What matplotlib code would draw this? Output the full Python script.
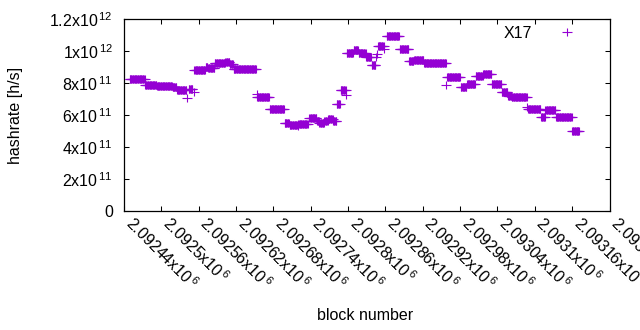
import numpy as np
import matplotlib
matplotlib.use('Agg')
import matplotlib.pyplot as plt
from matplotlib.path import Path

plt.rcParams['font.family'] = ['Liberation Sans', 'DejaVu Sans']
plt.rcParams['mathtext.fontset'] = 'custom'
plt.rcParams['mathtext.rm'] = 'Liberation Sans'
plt.rcParams['mathtext.it'] = 'Liberation Sans'
plt.rcParams['font.size'] = 11.5

# 数据：区块区间（起止区块号）及对应算力 (h/s)
block_base = 2092440
run_start = [9, 34, 53, 78, 85, 101, 104, 112, 113, 131, 135, 146, 163, 170, 176,
             213, 214, 234, 258, 266, 279, 280, 298, 310, 314, 322, 328, 336, 342,
             348, 357, 358, 369, 377, 389, 398, 405, 407, 408, 418, 422, 443, 458,
             466, 482, 518, 519, 541, 551, 565, 577, 591, 607, 617, 623, 648, 649,
             670, 677, 694, 720]
run_end = [33, 52, 77, 84, 100, 101, 110, 112, 130, 134, 145, 162, 169, 175, 212,
           213, 233, 257, 265, 278, 279, 295, 309, 313, 321, 327, 335, 341, 347,
           356, 357, 368, 376, 388, 397, 404, 405, 407, 417, 418, 442, 457, 465,
           481, 517, 518, 540, 550, 564, 576, 590, 606, 616, 622, 647, 648, 669,
           676, 693, 719, 731]
run_rate = [823e9, 787e9, 781e9, 772e9, 756e9, 704e9, 760e9, 744e9, 884e9, 903e9,
            892e9, 923e9, 931e9, 917e9, 885e9, 731e9, 711e9, 636e9, 553e9, 537e9,
            530e9, 544e9, 579e9, 562e9, 548e9, 565e9, 575e9, 560e9, 669e9, 756e9,
            725e9, 985e9, 1004e9, 985e9, 964e9, 912e9, 960e9, 980e9, 1030e9, 1010e9,
            1092e9, 1010e9, 935e9, 941e9, 923e9, 785e9, 835e9, 777e9, 794e9, 846e9,
            854e9, 792e9, 742e9, 719e9, 711e9, 652e9, 636e9, 590e9, 629e9, 585e9,
            498e9]

blocks = []
rates = []
for s, e, r in zip(run_start, run_end, run_rate):
    b = np.arange(block_base + s, block_base + e + 1)
    blocks.append(b)
    rates.append(np.full(len(b), r))
blocks = np.concatenate(blocks)
rates = np.concatenate(rates)

# gnuplot 风格的十字标记
cross = Path([(-1, 0), (1, 0), (0, -0.8), (0, 0.8)],
             [Path.MOVETO, Path.LINETO, Path.MOVETO, Path.LINETO])

fig = plt.figure(figsize=(6.4, 3.3), dpi=100)
ax = fig.add_axes([124 / 640, 1 - 211 / 330, (609.5 - 124) / 640, (211 - 19) / 330])
ax.plot(blocks, rates, linestyle='none', marker=cross, markersize=7.2,
        markeredgewidth=0.8, color='#9400d3', label='X17')

xticks = [block_base + 60 * k for k in range(14)]
ax.set_xlim(xticks[0], xticks[-1])
ax.set_ylim(0, 1.2e12)
ax.set_xticks(xticks)
ax.set_xticklabels([r'%gx10$^{\,6}$' % (t / 1e6) for t in xticks],
                   rotation=-45, ha='left', va='baseline', rotation_mode='anchor')
yticks = [0, 2e11, 4e11, 6e11, 8e11, 1e12, 1.2e12]
ylabels = ['0', r'2x10$^{\,11}$', r'4x10$^{\,11}$', r'6x10$^{\,11}$',
           r'8x10$^{\,11}$', r'1x10$^{\,12}$', r'1.2x10$^{\,12}$']
ax.set_yticks(yticks)
ax.set_yticklabels(ylabels)
ax.tick_params(direction='in', length=3.3, width=0.75, top=True, right=True)
ax.tick_params(axis='y', pad=8)
ax.tick_params(axis='x', pad=10)
for sp in ax.spines.values():
    sp.set_linewidth(0.9)

fig.text(16 / 640, 1 - 115 / 330, 'hashrate [h/s]', rotation=90, ha='center', va='center')
fig.text(365 / 640, 1 - 315 / 330, 'block number', ha='center', va='center')

ax.legend(loc='upper right', bbox_to_anchor=(594 / 640, 1 - 26 / 330),
          bbox_transform=fig.transFigure, frameon=False, markerfirst=False,
          numpoints=1, handlelength=3.4, handletextpad=0.5, borderpad=0,
          borderaxespad=0, fontsize=11.5)

fig.savefig('out.png', dpi=100)
